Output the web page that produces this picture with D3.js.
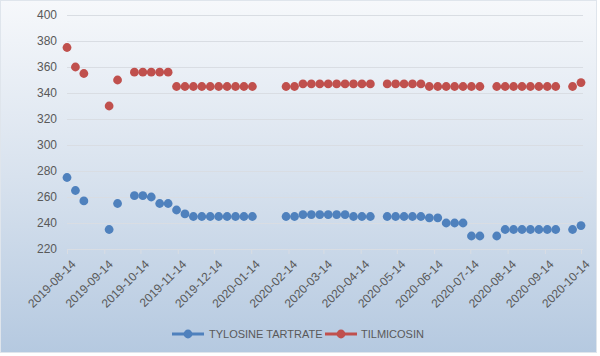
<!DOCTYPE html>
<html>
<head>
<meta charset="utf-8">
<script src="https://cdn.jsdelivr.net/npm/d3@7"></script>
<style>
  html, body { margin: 0; padding: 0; background: #ffffff; }
  svg { display: block; }
  text { font-family: "Liberation Sans", Arial, sans-serif; fill: #595959; }
</style>
</head>
<body>
<svg id="chart" width="600" height="356"></svg>
<script>
const dates = [
  "2019-08-14","2019-08-21","2019-08-28","2019-09-18","2019-09-25",
  "2019-10-09","2019-10-16","2019-10-23","2019-10-30","2019-11-06",
  "2019-11-13","2019-11-20","2019-11-27","2019-12-04","2019-12-11",
  "2019-12-18","2019-12-25","2020-01-01","2020-01-08","2020-01-15",
  "2020-02-12","2020-02-19","2020-02-26","2020-03-04","2020-03-11",
  "2020-03-18","2020-03-25","2020-04-01","2020-04-08","2020-04-15",
  "2020-04-22",
  "2020-05-06","2020-05-13","2020-05-20","2020-05-27","2020-06-03",
  "2020-06-10","2020-06-17","2020-06-24","2020-07-01","2020-07-08",
  "2020-07-15","2020-07-22",
  "2020-08-05","2020-08-12","2020-08-19","2020-08-26","2020-09-02",
  "2020-09-09","2020-09-16","2020-09-23",
  "2020-10-07","2020-10-14"
];
const tylosineTartrate = [
  275,265,257,235,255,
  261,261,260,255,255,
  250,247,245,245,245,
  245,245,245,245,245,
  245,245,246.5,246.5,246.5,
  246.5,246.5,246.5,245,245,
  245,
  245,245,245,245,245,
  244,244,240,240,240,
  230,230,
  230,235,235,235,235,
  235,235,235,
  235,238
];
const tilmicosin = [
  375,360,355,330,350,
  356,356,356,356,356,
  345,345,345,345,345,
  345,345,345,345,345,
  345,345,347,347,347,
  347,347,347,347,347,
  347,
  347,347,347,347,347,
  345,345,345,345,345,
  345,345,
  345,345,345,345,345,
  345,345,345,
  345,348
];
const seriesNames = ["TYLOSINE TARTRATE", "TILMICOSIN"];
const seriesColors = ["#4f81bd", "#c0504d"];
const yTicks = [220,240,260,280,300,320,340,360,380,400];
const xTickLabels = [
  "2019-08-14","2019-09-14","2019-10-14","2019-11-14","2019-12-14",
  "2020-01-14","2020-02-14","2020-03-14","2020-04-14","2020-05-14",
  "2020-06-14","2020-07-14","2020-08-14","2020-09-14","2020-10-14"
];

const parse = d3.utcParse("%Y-%m-%d");
const fmt = d3.utcFormat("%Y-%m-%d");
const svg = d3.select("#chart");

// background gradient
const defs = svg.append("defs");
const grad = defs.append("linearGradient").attr("id","bg").attr("x1",0).attr("y1",0).attr("x2",0).attr("y2",1);
grad.append("stop").attr("offset","0%").attr("stop-color","#f6f8fb");
grad.append("stop").attr("offset","50%").attr("stop-color","#d8e2ee");
grad.append("stop").attr("offset","100%").attr("stop-color","#b5c9e0");
svg.append("rect").attr("x",0.5).attr("y",0.5).attr("width",596).attr("height",352)
  .attr("fill","url(#bg)").attr("stroke","#dfe5ec");

const plotLeft = 67, plotRight = 583;
const x = d3.scaleUtc().domain([parse(xTickLabels[0]), parse(xTickLabels[xTickLabels.length-1])]).range([67, 581]);
const y = d3.scaleLinear().domain([220, 400]).range([249, 15]);

// gridlines
svg.append("g").attr("transform", `translate(${plotLeft},0)`)
  .call(d3.axisLeft(y).tickValues(yTicks.filter(v => v > 220)).tickSize(-(plotRight - plotLeft)).tickFormat(""))
  .call(g => g.select(".domain").remove())
  .call(g => g.selectAll("line").attr("stroke","#d9dde3").attr("stroke-width",1));

// y axis labels
svg.append("g").attr("transform", `translate(${plotLeft},0)`)
  .call(d3.axisLeft(y).tickValues(yTicks).tickSize(0).tickPadding(10))
  .call(g => g.select(".domain").remove())
  .call(g => g.selectAll("text").attr("font-size", 12).attr("fill","#595959")
      .style("font-family","'Liberation Sans', Arial, sans-serif"));

// x axis
const xAxis = svg.append("g").attr("transform", "translate(0,249)")
  .call(d3.axisBottom(x).tickValues(xTickLabels.map(parse)).tickSize(5).tickFormat(fmt));
xAxis.select(".domain").attr("d", `M${plotLeft},0.5H${plotRight}`).attr("stroke","#d9dde3");
xAxis.selectAll(".tick line").attr("stroke","#d9dde3");
xAxis.selectAll(".tick text")
  .attr("x", 0).attr("y", 0).attr("dy", "0.35em")
  .attr("transform", "translate(6,13) rotate(-45)")
  .attr("text-anchor","end")
  .attr("font-size", 12)
  .attr("fill","#595959")
  .style("font-family","'Liberation Sans', Arial, sans-serif");

// markers
const allSeries = [tylosineTartrate, tilmicosin];
allSeries.forEach((vals, i) => {
  svg.append("g").selectAll("circle")
    .data(vals.map((v, j) => ({ d: parse(dates[j]), v })))
    .join("circle")
    .attr("cx", p => x(p.d))
    .attr("cy", p => y(p.v))
    .attr("r", 4.4)
    .attr("fill", seriesColors[i]);
});

// legend
const legendY = 334;
const legendItems = [
  { x0: 172, x1: 204, tx: 209 },
  { x0: 325, x1: 357, tx: 361 }
];
legendItems.forEach((it, i) => {
  const g = svg.append("g");
  g.append("line").attr("x1", it.x0).attr("x2", it.x1).attr("y1", legendY).attr("y2", legendY)
    .attr("stroke", seriesColors[i]).attr("stroke-width", 3);
  g.append("circle").attr("cx", (it.x0 + it.x1)/2).attr("cy", legendY).attr("r", 4.4).attr("fill", seriesColors[i]);
  g.append("text").attr("x", it.tx).attr("y", legendY).attr("dy","0.35em")
    .attr("font-size", 11).attr("fill","#595959").text(seriesNames[i]);
});
</script>
</body>
</html>
